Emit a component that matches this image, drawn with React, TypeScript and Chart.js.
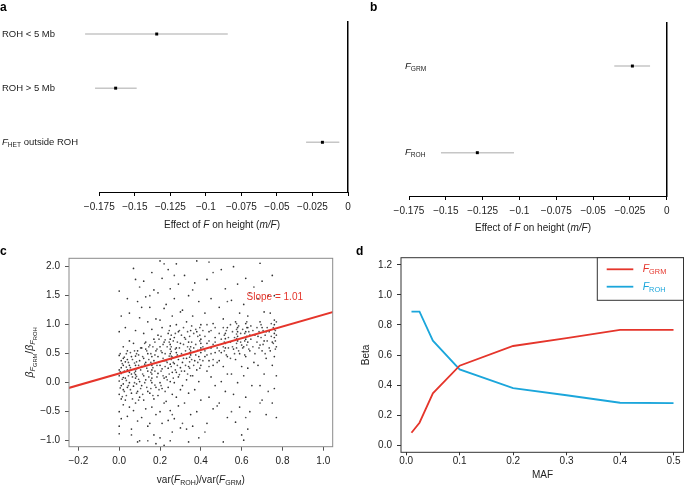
import React, { useEffect, useRef } from 'react';
import { Chart, registerables } from 'chart.js';

Chart.register(...registerables);

const FONT = "'Liberation Sans', Arial, Helvetica, sans-serif";
const TXT = '#222222';
const RED = '#e5352b';
const BLUE = '#1ba6db';
Chart.defaults.font.family = FONT;

// ---------- Panel a ----------
const rowsA = ['ROH < 5 Mb', 'ROH > 5 Mb', 'F_HET outside ROH'];
const estA = [-0.1346, -0.1635, -0.018];
const loA = [-0.185, -0.178, -0.0295];
const hiA = [-0.0846, -0.1487, -0.0061];

// ---------- Panel b ----------
const rowsB = ['F_GRM', 'F_ROH'];
const estB = [-0.0233, -0.1286];
const loB = [-0.0356, -0.1533];
const hiB = [-0.0113, -0.1037];

const forestTicks = [-0.175, -0.15, -0.125, -0.1, -0.075, -0.05, -0.025, 0];

// ---------- Panel c ----------
const slopeC = 1.01;
const interceptC = 0.16;
const fitLineX = [-0.3, 1.1];
const scatterC: [number, number][] = [
  [0.0,1.58],[0.01,1.15],[0.0,0.88],[0.02,0.62],[0.0,0.47],[0.01,0.38],[0.02,0.3],[0.0,0.22],[0.01,0.16],[0.02,0.09],[0.0,0.03],[0.01,-0.05],[0.02,-0.12],[0.0,-0.2],[0.01,-0.28],[0.02,-0.38],[0.0,-0.5],[0.01,-0.62],[0.0,-0.75],[0.0,-0.88],[0.02,0.42],[0.01,0.26],[0.0,0.12],[0.02,-0.02],
  [0.04,1.45],[0.05,1.2],[0.03,0.95],[0.05,0.72],[0.04,0.55],[0.06,0.45],[0.03,0.36],[0.05,0.3],[0.04,0.22],[0.06,0.15],[0.03,0.08],[0.05,0.0],[0.04,-0.08],[0.06,-0.18],[0.03,-0.3],[0.05,-0.42],[0.04,-0.58],[0.06,-0.8],[0.05,0.18],[0.04,0.4],
  [0.07,1.97],[0.08,1.78],[0.09,1.4],[0.1,1.12],[0.08,0.9],[0.07,0.68],[0.09,0.55],[0.08,0.46],[0.1,0.38],[0.08,0.3],[0.09,0.25],[0.08,0.2],[0.08,0.14],[0.08,0.08],[0.1,0.02],[0.07,-0.06],[0.09,-0.15],[0.1,-0.25],[0.08,-0.35],[0.07,-0.48],[0.09,-0.66],[0.1,-1.0],[0.09,-1.02],
  [0.12,1.75],[0.13,1.48],[0.11,1.3],[0.14,1.05],[0.12,0.85],[0.13,0.7],[0.11,0.6],[0.14,0.5],[0.12,0.42],[0.13,0.35],[0.11,0.28],[0.14,0.2],[0.12,0.12],[0.13,0.05],[0.11,-0.05],[0.14,-0.15],[0.12,-0.3],[0.13,-0.45],[0.11,-0.6],[0.14,-0.75],[0.13,0.58],
  [0.16,1.9],[0.17,1.6],[0.15,1.3],[0.18,1.1],[0.16,0.92],[0.17,0.75],[0.15,0.65],[0.18,0.55],[0.16,0.45],[0.17,0.38],[0.16,0.3],[0.16,0.22],[0.16,0.15],[0.16,0.08],[0.16,0.0],[0.18,-0.08],[0.15,-0.18],[0.17,-0.28],[0.16,-0.42],[0.18,-0.55],[0.15,-0.7],[0.17,-0.9],[0.18,-1.05],
  [0.2,2.1],[0.21,1.8],[0.19,1.55],[0.22,1.28],[0.2,1.08],[0.21,0.95],[0.19,0.82],[0.22,0.7],[0.2,0.62],[0.21,0.52],[0.19,0.45],[0.22,0.38],[0.2,0.3],[0.21,0.24],[0.19,0.16],[0.22,0.08],[0.2,0.0],[0.21,-0.1],[0.19,-0.22],[0.22,-0.35],[0.2,-0.5],[0.21,-0.7],[0.2,-0.95],[0.22,-1.08],
  [0.24,1.95],[0.25,1.62],[0.23,1.35],[0.26,1.15],[0.25,0.98],[0.24,0.85],[0.25,0.75],[0.25,0.66],[0.25,0.58],[0.25,0.5],[0.26,0.44],[0.23,0.38],[0.25,0.32],[0.24,0.25],[0.26,0.18],[0.23,0.1],[0.25,0.02],[0.24,-0.08],[0.26,-0.2],[0.23,-0.32],[0.25,-0.48],[0.24,-0.65],[0.26,-0.85],[0.25,-1.0],
  [0.28,2.05],[0.29,1.7],[0.27,1.45],[0.3,1.22],[0.28,1.0],[0.29,0.88],[0.27,0.78],[0.3,0.68],[0.28,0.6],[0.28,0.52],[0.28,0.45],[0.29,0.4],[0.27,0.33],[0.3,0.26],[0.28,0.18],[0.29,0.1],[0.27,0.0],[0.3,-0.12],[0.28,-0.25],[0.29,-0.4],[0.27,-0.62],[0.3,-0.78],
  [0.32,1.85],[0.34,1.5],[0.31,1.25],[0.33,1.05],[0.35,0.9],[0.32,0.78],[0.34,0.7],[0.35,0.62],[0.35,0.55],[0.35,0.48],[0.33,0.42],[0.31,0.35],[0.34,0.28],[0.32,0.2],[0.35,0.12],[0.33,0.05],[0.31,-0.05],[0.34,-0.18],[0.32,-0.35],[0.35,-0.55],[0.33,-0.8],[0.34,-1.02],
  [0.38,2.1],[0.37,1.72],[0.39,1.4],[0.36,1.15],[0.4,1.0],[0.38,0.88],[0.4,0.75],[0.4,0.68],[0.4,0.6],[0.4,0.52],[0.39,0.45],[0.37,0.38],[0.4,0.3],[0.38,0.22],[0.36,0.12],[0.39,0.02],[0.37,-0.12],[0.4,-0.3],[0.38,-0.5],[0.36,-0.75],[0.39,-0.95],
  [0.43,1.78],[0.45,1.45],[0.42,1.2],[0.46,1.02],[0.44,0.88],[0.47,0.78],[0.43,0.68],[0.45,0.6],[0.47,0.52],[0.42,0.45],[0.44,0.38],[0.46,0.3],[0.43,0.2],[0.45,0.1],[0.47,-0.05],[0.44,-0.25],[0.46,-0.45],[0.43,-0.7],
  [0.5,1.95],[0.52,1.62],[0.49,1.3],[0.51,1.1],[0.53,0.95],[0.52,0.85],[0.52,0.76],[0.52,0.68],[0.52,0.6],[0.5,0.52],[0.53,0.45],[0.49,0.38],[0.51,0.28],[0.53,0.15],[0.5,0.02],[0.52,-0.15],[0.49,-0.35],[0.53,-0.6],[0.51,-1.02],
  [0.56,2.0],[0.58,1.7],[0.55,1.42],[0.59,1.2],[0.57,1.05],[0.58,0.95],[0.58,0.88],[0.58,0.8],[0.58,0.72],[0.6,0.65],[0.56,0.58],[0.59,0.5],[0.57,0.4],[0.6,0.28],[0.55,0.15],[0.58,0.0],[0.56,-0.2],[0.59,-0.42],[0.57,-0.68],[0.6,-0.9],
  [0.62,1.8],[0.64,1.55],[0.61,1.35],[0.63,1.15],[0.62,1.02],[0.63,0.95],[0.62,0.88],[0.64,0.82],[0.62,0.75],[0.63,0.7],[0.61,0.62],[0.64,0.55],[0.62,0.45],[0.66,0.35],[0.63,0.25],[0.61,0.12],[0.65,-0.05],[0.62,-0.25],[0.64,-0.5],[0.63,-0.8],[0.61,-0.99],
  [0.69,2.06],[0.7,1.75],[0.68,1.45],[0.71,1.22],[0.69,1.05],[0.7,0.95],[0.72,0.88],[0.68,0.8],[0.71,0.72],[0.69,0.65],[0.7,0.55],[0.72,0.42],[0.68,0.3],[0.71,0.15],[0.69,-0.05],[0.7,-0.3],[0.72,-0.55],
  [0.75,1.85],[0.76,1.5],[0.74,1.2],[0.76,1.08],[0.76,1.0],[0.76,0.92],[0.76,0.85],[0.76,0.78],[0.75,0.7],[0.77,0.62],[0.74,0.55],[0.76,0.45],[0.75,0.3],[0.77,0.12],[0.76,-0.1],[0.75,-0.35],[0.77,-0.6],
];
const scatterCoreC: [number, number][] = [
  [0.005,0.5],[0.015,0.33],[0.005,0.19],[0.015,0.06],[0.005,-0.09],[0.015,-0.24],[0.025,0.44],[0.025,0.2],[0.025,-0.15],[0.035,0.5],[0.035,0.27],[0.035,0.04],[0.035,-0.22],[0.045,0.35],[0.045,0.12],[0.045,-0.05],[0.055,0.52],[0.055,0.26],[0.055,-0.12],[0.065,0.4],[0.065,0.1],[0.065,-0.28],[0.075,0.55],[0.075,0.34],[0.075,0.17],[0.075,0.0],[0.085,0.5],[0.085,0.36],[0.085,0.24],[0.085,0.11],[0.085,-0.02],[0.085,-0.18],[0.095,0.48],[0.095,0.3],[0.095,0.06],[0.095,-0.3],
  [0.105,0.6],[0.105,0.22],[0.105,-0.1],[0.115,0.45],[0.115,0.15],[0.115,-0.2],[0.125,0.68],[0.125,0.32],[0.125,0.0],[0.135,0.55],[0.135,0.25],[0.135,-0.08],[0.145,0.62],[0.145,0.4],[0.145,0.1],[0.155,0.5],[0.155,0.35],[0.155,0.18],[0.155,0.04],[0.155,-0.1],[0.165,0.62],[0.165,0.26],[0.165,-0.22],[0.175,0.7],[0.175,0.48],[0.175,0.2],[0.175,-0.04],[0.185,0.58],[0.185,0.3],[0.185,0.1],[0.195,0.75],[0.195,0.36],[0.195,-0.12],
  [0.205,0.8],[0.205,0.55],[0.205,0.2],[0.205,-0.05],[0.215,0.66],[0.215,0.42],[0.215,0.12],[0.225,0.74],[0.225,0.5],[0.225,0.28],[0.225,-0.15],[0.235,0.62],[0.235,0.35],[0.235,0.05],[0.245,0.9],[0.245,0.7],[0.245,0.46],[0.245,0.15],[0.255,0.82],[0.255,0.62],[0.255,0.54],[0.255,0.46],[0.255,0.4],[0.255,0.28],[0.265,0.72],[0.265,0.35],[0.265,0.08],[0.275,0.85],[0.275,0.58],[0.275,0.22],[0.285,0.7],[0.285,0.48],[0.285,0.3],[0.295,0.9],[0.295,0.6],[0.295,0.14],
  [0.305,0.82],[0.305,0.5],[0.305,0.2],[0.315,0.95],[0.315,0.66],[0.315,0.42],[0.325,0.75],[0.325,0.55],[0.325,0.3],[0.335,0.88],[0.335,0.62],[0.335,0.15],[0.345,0.8],[0.345,0.58],[0.345,0.52],[0.345,0.44],[0.345,0.36],[0.345,0.25],[0.355,0.98],[0.355,0.7],[0.355,0.4],[0.365,0.85],[0.365,0.6],[0.365,0.3],[0.375,0.92],[0.375,0.66],[0.375,0.48],[0.385,0.8],[0.385,0.56],[0.385,0.35],[0.395,0.95],[0.395,0.82],[0.395,0.72],[0.395,0.56],[0.395,0.4],[0.395,0.25],
  [0.41,0.9],[0.41,0.62],[0.41,0.38],[0.42,0.8],[0.42,0.55],[0.43,1.0],[0.43,0.48],[0.44,0.72],[0.44,0.28],[0.45,0.9],[0.45,0.5],[0.46,0.66],[0.46,0.4],[0.47,0.95],[0.47,0.7],[0.48,0.6],[0.48,0.35],[0.49,0.85],[0.49,0.55],
  [0.5,0.75],[0.51,0.95],[0.51,0.62],[0.515,0.82],[0.515,0.7],[0.515,0.55],[0.525,0.9],[0.525,0.48],[0.535,0.78],[0.535,0.6],[0.545,1.0],[0.545,0.7],[0.545,0.42],[0.555,0.88],[0.555,0.62],[0.565,0.78],[0.565,0.5],[0.575,1.02],[0.575,0.92],[0.575,0.84],[0.575,0.76],[0.575,0.68],[0.575,0.6],[0.585,0.98],[0.585,0.55],[0.595,0.85],[0.595,0.7],
  [0.605,0.92],[0.605,0.6],[0.615,0.85],[0.615,0.72],[0.615,0.48],[0.625,1.05],[0.625,0.95],[0.625,0.8],[0.625,0.65],[0.635,0.88],[0.635,0.58],[0.645,0.98],[0.645,0.75],[0.655,0.9],[0.655,0.62],[0.665,0.82],[0.665,0.5],[0.675,0.95],[0.675,0.7],[0.685,0.88],[0.685,0.6],[0.695,1.0],[0.695,0.78],[0.705,0.9],[0.705,0.66],[0.715,0.82],[0.715,0.5],[0.725,0.95],[0.725,0.72],[0.735,0.88],[0.735,0.6],[0.745,1.02],[0.745,0.8],[0.755,0.95],[0.755,0.68],[0.765,0.9],[0.765,0.72],[0.765,0.58],[0.77,1.05],[0.77,0.82],
  [0.06,-0.9],[0.14,-1.0],[0.26,-0.55],[0.31,-0.7],[0.42,-0.85],[0.48,-0.4],[0.55,-0.5],[0.62,-0.6],[0.69,-0.35],[0.73,-0.15],[0.15,1.5],[0.27,1.85],[0.36,1.6],[0.46,1.9],[0.53,1.4],[0.66,1.65],[0.73,1.5],[0.1,1.65],[0.22,2.05],[0.44,2.08],
];

// ---------- Panel d ----------
const mafX = [0.01, 0.025, 0.05, 0.1, 0.2, 0.3, 0.4, 0.5];
const betaGRM = [0.082, 0.149, 0.345, 0.529, 0.66, 0.713, 0.767, 0.767];
const betaROH = [0.889, 0.889, 0.695, 0.504, 0.38, 0.332, 0.282, 0.28];
const legendD = ['F_GRM', 'F_ROH'];

// ---------- rich text helpers ----------
type Seg = { t: string; i?: boolean; s?: number; c?: string; b?: boolean };

function parseLabel(s: string): Seg[] {
  const out: Seg[] = [];
  const re = /([A-Za-z])_([A-Z]+)/g;
  let last = 0;
  let m: RegExpExecArray | null;
  while ((m = re.exec(s))) {
    if (m.index > last) out.push({ t: s.slice(last, m.index) });
    out.push({ t: m[1], i: true });
    out.push({ t: m[2], s: 1 });
    last = re.lastIndex;
  }
  if (last < s.length) out.push({ t: s.slice(last) });
  return out;
}

function segSize(size: number, seg: Seg) {
  return seg.s === 1 ? size * 0.7 : seg.s === 2 ? size * 0.55 : size;
}
function segFont(size: number, seg: Seg) {
  return `${seg.i ? 'italic ' : ''}${seg.b ? 'bold ' : ''}${segSize(size, seg)}px ${FONT}`;
}

function drawRich(
  ctx: CanvasRenderingContext2D,
  segs: Seg[],
  x: number,
  y: number,
  size: number,
  color: string,
  align: 'left' | 'center' | 'right' = 'left',
  rotate = 0
) {
  ctx.save();
  ctx.translate(x, y);
  if (rotate) ctx.rotate(rotate);
  const widths = segs.map((seg) => {
    ctx.font = segFont(size, seg);
    return ctx.measureText(seg.t).width;
  });
  const total = widths.reduce((a, b) => a + b, 0);
  let cx = align === 'center' ? -total / 2 : align === 'right' ? -total : 0;
  ctx.textAlign = 'left';
  ctx.textBaseline = 'middle';
  segs.forEach((seg, k) => {
    ctx.font = segFont(size, seg);
    ctx.fillStyle = seg.c || color;
    const dy = seg.s === 1 ? size * 0.28 : seg.s === 2 ? size * 0.48 : 0;
    ctx.fillText(seg.t, cx, dy);
    cx += widths[k];
  });
  ctx.restore();
}

function letter(ctx: CanvasRenderingContext2D, t: string, x: number, y: number) {
  drawRich(ctx, [{ t, b: true }], x, y, 12, '#000');
}

const fixX = (h: number) => (s: any) => {
  s.height = h;
  s.paddingLeft = 0;
  s.paddingRight = 0;
};
const fixY = (w: number) => (s: any) => {
  s.width = w;
  s.paddingTop = 0;
  s.paddingBottom = 0;
};

const fmtForest = (v: any) => {
  const r = Math.round(Number(v) * 1000) / 1000;
  if (r === 0) return '0';
  return (r < 0 ? '\u2212' : '') + String(Math.abs(r));
};
const fmt1 = (v: any) => {
  const r = Math.round(Number(v) * 10) / 10;
  return (r < 0 ? '\u2212' : '') + Math.abs(r).toFixed(1);
};

const tickFont = { family: FONT, size: 10 };
const effectTitle: Seg[] = [
  { t: 'Effect of ' },
  { t: 'F', i: true },
  { t: ' on height (' },
  { t: 'm/F', i: true },
  { t: ')' },
];

const baseOpts = {
  responsive: false,
  animation: false as const,
  events: [] as any[],
  plugins: { legend: { display: false }, tooltip: { enabled: false } },
};

function forestConfig(
  rows: string[],
  est: number[],
  lo: number[],
  hi: number[],
  area: { left: number; right: number; top: number; bottom: number },
  yMin: number,
  yMax: number,
  labelX: number,
  titleY: number,
  titleX: number,
  letterText: string,
  letterX: number
): any {
  const errs = est.map((_, i) => ({
    type: 'scatter',
    showLine: true,
    data: [
      { x: lo[i], y: i + 1 },
      { x: hi[i], y: i + 1 },
    ],
    borderColor: '#c6c6c6',
    borderWidth: 1.5,
    pointRadius: 0,
    clip: false,
  }));
  const pts = {
    type: 'scatter',
    data: est.map((v, i) => ({ x: v, y: i + 1 })),
    pointStyle: 'rect',
    pointRadius: 2.1,
    backgroundColor: '#000',
    borderColor: '#000',
    borderWidth: 0,
    clip: false,
  };
  return {
    type: 'scatter',
    data: { datasets: [pts, ...errs] },
    options: {
      ...baseOpts,
      layout: {
        padding: {
          left: area.left,
          right: 685 - area.right,
          top: area.top,
          bottom: 488 - area.bottom - 30,
        },
      },
      scales: {
        x: {
          type: 'linear',
          position: 'bottom',
          min: -0.175,
          max: 0,
          afterBuildTicks: (s: any) => {
            s.ticks = forestTicks.map((v) => ({ value: v }));
          },
          ticks: {
            autoSkip: false,
            maxRotation: 0,
            minRotation: 0,
            includeBounds: false,
            font: tickFont,
            color: TXT,
            padding: 5,
            callback: fmtForest,
          },
          grid: { drawOnChartArea: false, drawTicks: true, tickLength: 4, color: '#000', lineWidth: 1 },
          border: { display: true, color: '#000', width: 1 },
          afterFit: fixX(30),
        },
        y: {
          type: 'linear',
          position: 'right',
          min: yMin,
          max: yMax,
          reverse: true,
          ticks: { display: false },
          grid: { display: false },
          border: { display: true, color: '#000', width: 1.5 },
          afterFit: fixY(0),
        },
      },
    },
    plugins: [
      {
        id: 'forestText' + letterText,
        afterDraw(chart: any) {
          const ctx = chart.ctx as CanvasRenderingContext2D;
          const ys = chart.scales.y;
          rows.forEach((r, i) => {
            drawRich(ctx, parseLabel(r), labelX, ys.getPixelForValue(i + 1), 9.5, TXT, 'left');
          });
          drawRich(ctx, effectTitle, titleX, titleY, 10, TXT, 'center');
          letter(ctx, letterText, letterX, 8);
        },
      },
    ],
  };
}

function configA() {
  return forestConfig(
    rowsA, estA, loA, hiA,
    { left: 99.3, right: 348, top: 22, bottom: 192 },
    0.778, 3.918, 2, 225, 222, 'a', 0
  );
}
function configB() {
  return forestConfig(
    rowsB, estB, loB, hiB,
    { left: 409, right: 666.7, top: 22.7, bottom: 196 },
    0.5, 2.5, 405, 228, 533, 'b', 370
  );
}

function configC(): any {
  const area = { left: 69, right: 332.7, top: 258.3, bottom: 446.7 };
  return {
    type: 'scatter',
    data: {
      datasets: [
        {
          type: 'scatter',
          showLine: true,
          data: fitLineX.map((x) => ({ x, y: interceptC + slopeC * x })),
          borderColor: RED,
          borderWidth: 2,
          pointRadius: 0,
        },
        {
          type: 'scatter',
          data: scatterC.map(([x, y]) => ({ x, y })),
          pointRadius: 0.85,
          backgroundColor: '#333',
          borderWidth: 0,
        },
        {
          type: 'scatter',
          data: scatterCoreC.map(([x, y]) => ({ x, y })),
          pointRadius: 0.85,
          backgroundColor: '#555',
          borderWidth: 0,
        },
      ],
    },
    options: {
      ...baseOpts,
      layout: {
        padding: { left: area.left - 40, right: 685 - area.right, top: area.top, bottom: 488 - area.bottom - 30 },
      },
      scales: {
        x: {
          type: 'linear',
          min: -0.246,
          max: 1.046,
          ticks: { stepSize: 0.2, includeBounds: false, autoSkip: false, maxRotation: 0, font: tickFont, color: TXT, padding: 5, callback: fmt1 },
          grid: { drawOnChartArea: false, drawTicks: true, tickLength: 4, color: '#555' },
          border: { display: false },
          afterFit: fixX(30),
        },
        y: {
          type: 'linear',
          min: -1.103,
          max: 2.145,
          ticks: { stepSize: 0.5, includeBounds: false, autoSkip: false, font: tickFont, color: TXT, padding: 5, callback: fmt1 },
          grid: { drawOnChartArea: false, drawTicks: true, tickLength: 4, color: '#555' },
          border: { display: false },
          afterFit: fixY(40),
        },
      },
    },
    plugins: [
      {
        id: 'cText',
        afterDraw(chart: any) {
          const ctx = chart.ctx as CanvasRenderingContext2D;
          const ca = chart.chartArea;
          ctx.save();
          ctx.strokeStyle = '#8a8a8a';
          ctx.lineWidth = 1;
          ctx.strokeRect(ca.left, ca.top, ca.right - ca.left, ca.bottom - ca.top);
          ctx.restore();
          const xs = chart.scales.x;
          const ys = chart.scales.y;
          drawRich(ctx, [{ t: 'Slope = 1.01' }], xs.getPixelForValue(0.624), ys.getPixelForValue(1.47), 10, RED, 'left');
          drawRich(
            ctx,
            [
              { t: 'var(' },
              { t: 'F', i: true },
              { t: 'ROH', s: 1 },
              { t: ')/var(' },
              { t: 'F', i: true },
              { t: 'GRM', s: 1 },
              { t: ')' },
            ],
            (ca.left + ca.right) / 2,
            480,
            10,
            TXT,
            'center'
          );
          drawRich(
            ctx,
            [
              { t: '\u03b2', i: true },
              { t: 'F', i: true, s: 1 },
              { t: 'GRM', s: 2 },
              { t: '/' },
              { t: '\u03b2', i: true },
              { t: 'F', i: true, s: 1 },
              { t: 'ROH', s: 2 },
            ],
            30,
            (ca.top + ca.bottom) / 2,
            10.5,
            TXT,
            'center',
            -Math.PI / 2
          );
          letter(ctx, 'c', 0, 252);
        },
      },
    ],
  };
}

function configD(): any {
  const area = { left: 401, right: 684, top: 257.7, bottom: 452.3 };
  return {
    type: 'scatter',
    data: {
      datasets: [
        {
          type: 'scatter',
          showLine: true,
          data: mafX.map((x, i) => ({ x, y: betaGRM[i] })),
          borderColor: RED,
          borderWidth: 1.8,
          pointRadius: 0,
        },
        {
          type: 'scatter',
          showLine: true,
          data: mafX.map((x, i) => ({ x, y: betaROH[i] })),
          borderColor: BLUE,
          borderWidth: 1.8,
          pointRadius: 0,
        },
      ],
    },
    options: {
      ...baseOpts,
      layout: {
        padding: { left: area.left - 40, right: 685 - area.right, top: area.top, bottom: 488 - area.bottom - 30 },
      },
      scales: {
        x: {
          type: 'linear',
          min: -0.0096,
          max: 0.5196,
          ticks: { stepSize: 0.1, includeBounds: false, autoSkip: false, maxRotation: 0, font: tickFont, color: TXT, padding: 0, callback: fmt1 },
          grid: { drawOnChartArea: false, drawTicks: true, tickLength: 3, color: '#333' },
          border: { display: false },
          afterFit: fixX(30),
        },
        y: {
          type: 'linear',
          min: -0.048,
          max: 1.248,
          ticks: { stepSize: 0.2, includeBounds: false, autoSkip: false, font: tickFont, color: TXT, padding: 5, callback: fmt1 },
          grid: { drawOnChartArea: false, drawTicks: true, tickLength: 4, color: '#333' },
          border: { display: false },
          afterFit: fixY(40),
        },
      },
    },
    plugins: [
      {
        id: 'dText',
        afterDraw(chart: any) {
          const ctx = chart.ctx as CanvasRenderingContext2D;
          const ca = chart.chartArea;
          ctx.save();
          ctx.strokeStyle = '#333';
          ctx.lineWidth = 1;
          ctx.strokeRect(ca.left, ca.top, ca.right - ca.left - 0.5, ca.bottom - ca.top);
          // legend box
          const lx = 597.3;
          const lw = ca.right - 0.5 - lx;
          ctx.fillStyle = '#fff';
          ctx.fillRect(lx, ca.top, lw, 42.6);
          ctx.strokeRect(lx, ca.top, lw, 42.6);
          const colors = [RED, BLUE];
          const rowsY = [269.3, 286.7];
          legendD.forEach((lab, i) => {
            ctx.strokeStyle = colors[i];
            ctx.lineWidth = 1.8;
            ctx.beginPath();
            ctx.moveTo(606.7, rowsY[i]);
            ctx.lineTo(633.3, rowsY[i]);
            ctx.stroke();
            drawRich(ctx, parseLabel(lab), 642.7, rowsY[i], 10.5, colors[i], 'left');
          });
          ctx.restore();
          drawRich(ctx, [{ t: 'MAF' }], (ca.left + ca.right) / 2, 475, 10, TXT, 'center');
          drawRich(ctx, [{ t: 'Beta' }], 366, (ca.top + ca.bottom) / 2, 10, TXT, 'center', -Math.PI / 2);
          letter(ctx, 'd', 356, 252);
        },
      },
    ],
  };
}

function ChartCanvas({ make }: { make: () => any }) {
  const ref = useRef<HTMLCanvasElement | null>(null);
  useEffect(() => {
    if (!ref.current) return;
    const chart = new Chart(ref.current, make());
    return () => chart.destroy();
  }, [make]);
  return (
    <canvas
      ref={ref}
      width={685}
      height={488}
      style={{ position: 'absolute', left: 0, top: 0, width: 685, height: 488 }}
    />
  );
}

export default function App() {
  return (
    <div style={{ position: 'absolute', left: 0, top: 0, width: 685, height: 488, background: '#fff', overflow: 'hidden' }}>
      <ChartCanvas make={configA} />
      <ChartCanvas make={configB} />
      <ChartCanvas make={configC} />
      <ChartCanvas make={configD} />
    </div>
  );
}
